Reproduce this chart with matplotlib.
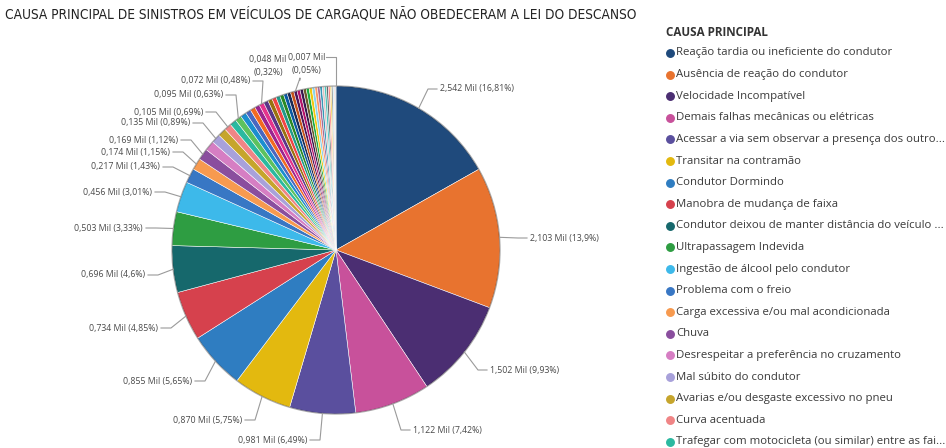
import matplotlib
matplotlib.use("Agg")
import matplotlib.pyplot as plt
import numpy as np
from matplotlib.lines import Line2D

# ---------------- data ----------------
title = "CAUSA PRINCIPAL DE SINISTROS EM VEÍCULOS DE CARGAQUE NÃO OBEDECERAM A LEI DO DESCANSO"
legend_title = "CAUSA PRINCIPAL"
categories = [
    "Reação tardia ou ineficiente do condutor",
    "Ausência de reação do condutor",
    "Velocidade Incompatível",
    "Demais falhas mecânicas ou elétricas",
    "Acessar a via sem observar a presença dos outro...",
    "Transitar na contramão",
    "Condutor Dormindo",
    "Manobra de mudança de faixa",
    "Condutor deixou de manter distância do veículo ...",
    "Ultrapassagem Indevida",
    "Ingestão de álcool pelo condutor",
    "Problema com o freio",
    "Carga excessiva e/ou mal acondicionada",
    "Chuva",
    "Desrespeitar a preferência no cruzamento",
    "Mal súbito do condutor",
    "Avarias e/ou desgaste excessivo no pneu",
    "Curva acentuada",
    "Trafegar com motocicleta (ou similar) entre as fai...",
]
# values in thousands ("Mil"), ordered as the slices (clockwise from 12 o'clock)
values = [2.542, 2.103, 1.502, 1.122, 0.981, 0.870, 0.855, 0.734, 0.696, 0.503, 0.456,
          0.217, 0.174, 0.169, 0.148, 0.135, 0.125, 0.105, 0.100, 0.095, 0.088, 0.080,
          0.076, 0.073, 0.072,
          0.070, 0.066, 0.063, 0.060, 0.057, 0.055, 0.052, 0.050, 0.048,
          0.047, 0.046, 0.045, 0.044, 0.043, 0.041, 0.038, 0.036, 0.035, 0.032,
          0.030, 0.028, 0.025, 0.023, 0.020, 0.015, 0.013, 0.010, 0.007]
# percentage shown on labelled slices ("" = no label)
pct_labels = ["16,81%", "13,9%", "9,93%", "7,42%", "6,49%", "5,75%", "5,65%", "4,85%",
              "4,6%", "3,33%", "3,01%", "1,43%", "1,15%", "1,12%", "", "0,89%", "",
              "0,69%", "", "0,63%", "", "", "", "", "0,48%",
              "", "", "", "", "", "", "", "", "0,32%"] + [""] * 18 + ["0,05%"]

main_colors = ["#1F4A7C", "#E8732F", "#4B2E72", "#C8519B", "#5A4F9E", "#E3B90F", "#2F7DC1",
               "#D6414D", "#16686C", "#2E9D42", "#3DB9EA", "#3877C4", "#F79A4F", "#8A4E9E",
               "#D67EC3", "#A8A1DA", "#C6A52C", "#F08586", "#2BB9A0"]
extra_colors = ["#5CC25E", "#1B8ECF", "#4A67C0", "#F26A21", "#9B2490", "#E5348D", "#5A3688",
                "#9A720F", "#F14545", "#22998A", "#2A8A24", "#0A5AA3", "#1C2A55", "#C7521A",
                "#4A1558", "#B5136A", "#36184F", "#6C5B2C", "#1AAB40", "#F2C80F", "#8AD4EB",
                "#FE9666", "#A66999", "#3599B8", "#DFBFBF", "#4AC5BB", "#5F6B6D", "#FB8281",
                "#F4D25A", "#7F898A", "#A4DDEE", "#FDAB89", "#B687AC", "#28738A"]

# ---------------- layout ----------------
W, H = 946, 448
fig = plt.figure(figsize=(W / 100, H / 100), dpi=100)
fig.patch.set_facecolor("white")

cx, cy, R = 336, 250, 164          # pie centre / radius in pixels (y from top)
L = 1.03
half = R * L
ax = fig.add_axes([(cx - half) / W, (H - cy - half) / H, 2 * half / W, 2 * half / H])

colors = (main_colors + extra_colors)[:len(values)]
wedges, _ = ax.pie(values, colors=colors, startangle=90, counterclock=False, radius=1,
                   wedgeprops=dict(edgecolor="white", linewidth=0.35))
ax.set_xlim(-L, L)
ax.set_ylim(-L, L)
ax.set_aspect("equal")
ax.axis("off")
# subtle dark rim like the printed 3-D look
rim = plt.Circle((0, 0), 1.0, fill=False, edgecolor="#202020", lw=1.0, alpha=0.35)
ax.add_patch(rim)

label_font = ["Open Sans", "DejaVu Sans"]
label_color = "#4a4a4a"
line_color = "#9a9a9a"

def px_to_fig(x, y):
    return x / W, (H - y) / H

# label anchor positions (pixels, y from top): side, x, y
label_pos = {
    0: ("R", 440, 89), 1: ("R", 530, 238), 2: ("R", 490, 370), 3: ("R", 413, 430),
    4: ("L", 307, 440), 5: ("L", 242, 420), 6: ("L", 192, 381), 7: ("L", 158, 328),
    8: ("L", 145, 275), 9: ("L", 143, 228), 10: ("L", 152, 192), 11: ("L", 160, 167),
    12: ("L", 170, 152), 13: ("L", 178, 140), 15: ("L", 190, 123), 17: ("L", 203, 112),
    19: ("L", 223, 95), 24: ("L", 250, 81), 33: ("C", 268, 66), 52: ("C", 307, 64),
}

total = sum(values)
cum = np.cumsum([0] + values)
for i, pct in enumerate(pct_labels):
    if not pct or i not in label_pos:
        continue
    side, tx, ty = label_pos[i]
    mid = (cum[i] + cum[i + 1]) / 2 / total * 2 * np.pi
    ex, ey = ax.transData.transform((np.sin(mid), np.cos(mid)))
    ex_p, ey_p = ex, H - ey
    txt_val = f"{values[i]:.3f}".replace(".", ",") + " Mil"
    if side == "R":
        fig.text(*px_to_fig(tx, ty), f"{txt_val} ({pct})", ha="left", va="center",
                 fontsize=6.3, family=label_font, color=label_color)
        pts = [(ex_p, ey_p), (tx - 12, ty), (tx - 3, ty)]
    elif side == "L":
        fig.text(*px_to_fig(tx, ty), f"{txt_val} ({pct})", ha="right", va="center",
                 fontsize=6.3, family=label_font, color=label_color)
        pts = [(ex_p, ey_p), (tx + 13, ty), (tx + 3, ty)]
    else:
        fig.text(*px_to_fig(tx, ty), f"{txt_val}\n({pct})", ha="center", va="center",
                 fontsize=6.3, family=label_font, color=label_color, linespacing=1.5)
        if i == len(values) - 1:
            pts = [(ex_p, ey_p), (ex_p, ty - 7), (tx + 19, ty - 7)]
        else:
            pts = [(ex_p, ey_p), (tx + 32, ty + 12), (tx + 32, ty + 14)]
    xs = [p[0] / W for p in pts]
    ys = [(H - p[1]) / H for p in pts]
    fig.add_artist(Line2D(xs, ys, color=line_color, lw=0.8, transform=fig.transFigure))

# title
fig.text(5 / W, 1 - 14 / H, title, ha="left", va="center", fontsize=9.8,
         family=["DejaVu Sans"], stretch="condensed", color="#222222")

# legend (manual, Power BI style)
fig.text(666 / W, 1 - 33 / H, legend_title, ha="left", va="center", fontsize=8.4,
         family=label_font, weight="bold", color="#333333")
for k, name in enumerate(categories):
    y = 53 + k * 21.6
    fig.add_artist(Line2D([670 / W], [1 - y / H], marker="o", markersize=5.4, linestyle="",
                          color=colors[k], transform=fig.transFigure))
    fig.text(676 / W, 1 - y / H, name, ha="left", va="center", fontsize=8.2,
             family=label_font, color="#3a3a3a")

fig.savefig("out.png", dpi=100)
